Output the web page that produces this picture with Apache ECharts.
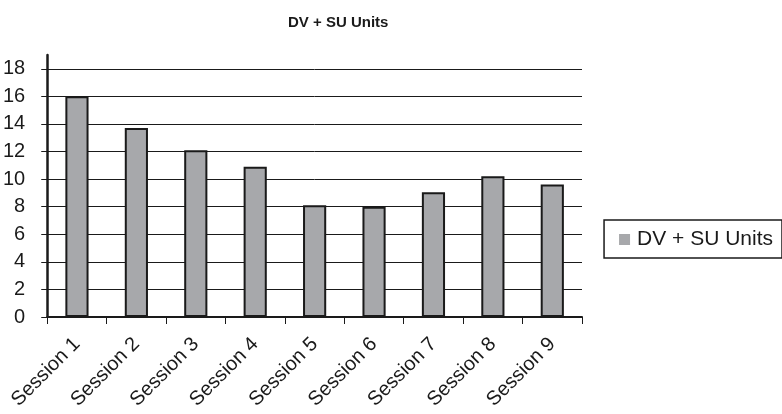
<!DOCTYPE html>
<html>
<head>
<meta charset="utf-8">
<script src="https://cdn.jsdelivr.net/npm/echarts@6/dist/echarts.min.js"></script>
<style>
  html, body { margin: 0; padding: 0; background: #fff; }
  #chart { width: 782px; height: 414px; }
</style>
</head>
<body>
<div id="chart"></div>
<script>
// Units per session
const categories = ['Session 1', 'Session 2', 'Session 3', 'Session 4', 'Session 5',
                    'Session 6', 'Session 7', 'Session 8', 'Session 9'];
const units = [16, 13.7, 12.1, 10.9, 8.1, 8.0, 9.05, 10.2, 9.6];
const seriesName = 'DV + SU Units';
const yTicks = [0, 2, 4, 6, 8, 10, 12, 14, 16, 18];

const FONT = '"Liberation Sans", Arial, sans-serif';
const INK = '#1a1a1a';
const chart = echarts.init(document.getElementById('chart'), null, { renderer: 'canvas' });

// gridlines at the labelled ticks only; the axis runs on a little past 18
const splitColors = yTicks.map(() => INK).concat(['rgba(0,0,0,0)']);

chart.setOption({
  animation: false,
  backgroundColor: '#ffffff',
  title: {
    text: seriesName,
    left: 283,
    top: 10,
    textStyle: { fontFamily: FONT, fontSize: 15, fontWeight: 'bold', color: INK }
  },
  legend: {
    data: [seriesName],
    right: 0,
    top: 220,
    orient: 'vertical',
    itemWidth: 11,
    itemHeight: 11,
    itemGap: 6,
    padding: [9, 9, 8, 15],
    borderColor: INK,
    borderWidth: 1.5,
    icon: 'rect',
    textStyle: { fontFamily: FONT, fontSize: 21, color: INK, padding: [0, 0, 0, 2] },
    itemStyle: { borderWidth: 0, color: '#a7a8ab' }
  },
  grid: { left: 47, right: 200, top: 55, bottom: 97, containLabel: false },
  xAxis: {
    type: 'category',
    data: categories,
    boundaryGap: true,
    axisLine: { show: true, lineStyle: { color: INK, width: 2 } },
    axisTick: { show: true, length: 7, lineStyle: { color: INK, width: 1 } },
    axisLabel: {
      rotate: 45, margin: 24,
      fontFamily: FONT, fontSize: 20, color: INK
    },
    splitLine: { show: false }
  },
  yAxis: {
    type: 'value',
    min: 0,
    max: 19,
    interval: 2,
    axisLine: { show: true, lineStyle: { color: INK, width: 2.5 } },
    axisTick: { show: true, length: 6, customValues: yTicks, lineStyle: { color: INK, width: 1 } },
    axisLabel: {
      margin: 22,
      customValues: yTicks,
      fontFamily: FONT, fontSize: 20, color: INK
    },
    splitLine: { show: true, lineStyle: { color: splitColors, width: 1 } }
  },
  series: [{
    name: seriesName,
    type: 'bar',
    data: units,
    barWidth: '39%',
    itemStyle: { color: '#a7a8ab', borderColor: INK, borderWidth: 2 }
  }]
});
</script>
</body>
</html>
